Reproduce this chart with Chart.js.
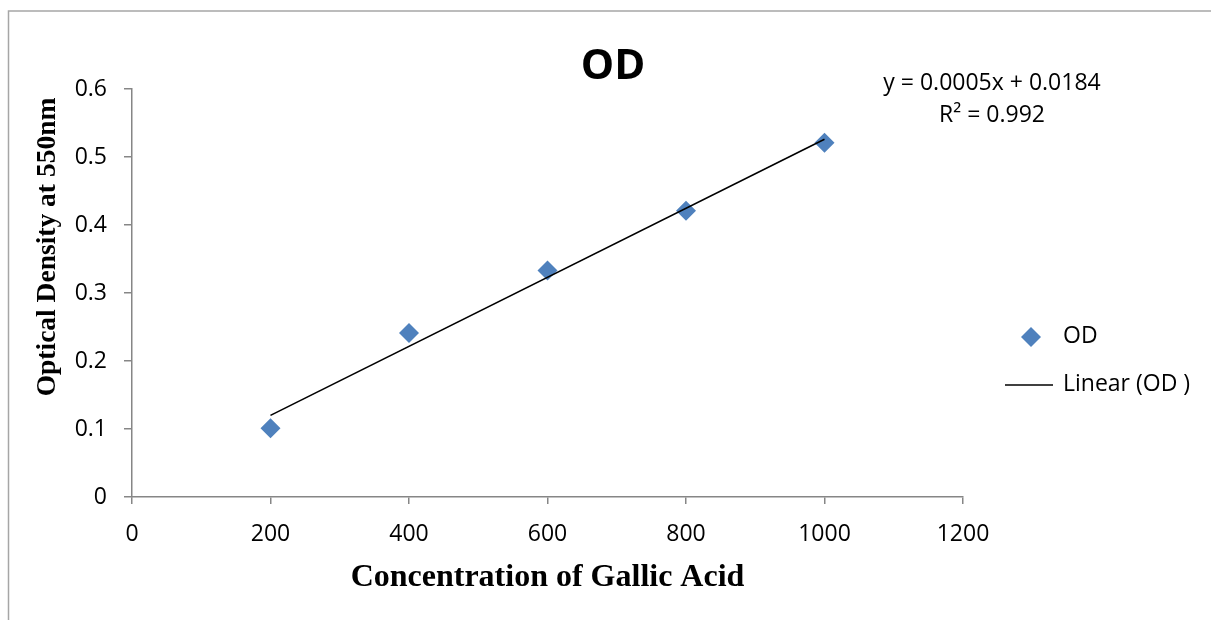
<!DOCTYPE html>
<html>
<head>
<meta charset="utf-8">
<script src="https://cdn.jsdelivr.net/npm/chart.js@4/dist/chart.umd.min.js"></script>
<style>
  html, body { margin: 0; padding: 0; background: #ffffff; }
  #wrap { width: 1211px; height: 620px; position: relative; }
</style>
</head>
<body>
<div id="wrap"><canvas id="c" width="1211" height="620"></canvas></div>
<script>
// ---- data ----
const concentrations = [200, 400, 600, 800, 1000];
const odValues = [0.101, 0.241, 0.333, 0.421, 0.521];
const trendX = [200, 1000];
const trendY = [0.120, 0.526];
const seriesName = "OD";
const trendName = "Linear (OD )";
const chartTitle = "OD";
const xAxisTitle = "Concentration of Gallic Acid";
const yAxisTitle = "Optical Density at 550nm";
const equationLines = ["y = 0.0005x + 0.0184", "R\u00b2 = 0.992"];
const xTickLabels = ["0", "200", "400", "600", "800", "1000", "1200"];
const yTickLabels = ["0", "0.1", "0.2", "0.3", "0.4", "0.5", "0.6"];

const BLUE = "#4F81BD";
const AXIS = "#868686";
const TICKFONT = "'Open Sans', 'Liberation Sans', sans-serif";
const SERIF = "'Liberation Serif', 'Times New Roman', serif";

const extras = {
  id: "extras",
  afterDraw(chart) {
    const ctx = chart.ctx;
    const ca = chart.chartArea;
    ctx.save();
    // outer frame (left + top visible)
    ctx.strokeStyle = "#a6a6a6";
    ctx.lineWidth = 1.5;
    ctx.beginPath();
    ctx.moveTo(8.5, 620);
    ctx.lineTo(8.5, 11);
    ctx.lineTo(1211, 11);
    ctx.stroke();

    // chart title
    ctx.fillStyle = "#000";
    ctx.font = "bold 42px " + TICKFONT;
    ctx.textAlign = "center";
    ctx.textBaseline = "alphabetic";
    ctx.fillText(chartTitle, 613, 79);

    // axis titles
    ctx.font = "bold 32px " + SERIF;
    ctx.fillText(xAxisTitle, (ca.left + ca.right) / 2, 586);

    ctx.save();
    ctx.translate(55, 247);
    ctx.rotate(-Math.PI / 2);
    ctx.font = "bold 27.5px " + SERIF;
    ctx.fillText(yAxisTitle, 0, 0);
    ctx.restore();

    // trendline equation
    ctx.font = "23px " + TICKFONT;
    ctx.textBaseline = "middle";
    ctx.textAlign = "center";
    ctx.fillText(equationLines[0], 992, 83);
    ctx.fillText(equationLines[1], 992, 115);

    // legend
    ctx.textAlign = "left";
    ctx.fillStyle = BLUE;
    ctx.beginPath();
    ctx.moveTo(1031, 327);
    ctx.lineTo(1041, 337);
    ctx.lineTo(1031, 347);
    ctx.lineTo(1021, 337);
    ctx.closePath();
    ctx.fill();
    ctx.fillStyle = "#000";
    ctx.fillText(chart.data.datasets[0].label, 1063, 336);
    ctx.strokeStyle = "#000";
    ctx.lineWidth = 1.5;
    ctx.beginPath();
    ctx.moveTo(1005, 385);
    ctx.lineTo(1053, 385);
    ctx.stroke();
    ctx.fillText(chart.data.datasets[1].label, 1063, 384);
    ctx.restore();
  }
};

new Chart(document.getElementById("c"), {
  type: "scatter",
  data: {
    datasets: [
      {
        label: seriesName,
        data: concentrations.map((x, i) => ({ x: x, y: odValues[i] })),
        pointStyle: "rectRot",
        pointRadius: 10,
        pointHoverRadius: 10,
        backgroundColor: BLUE,
        borderColor: BLUE,
        borderWidth: 0,
        order: 2
      },
      {
        label: trendName,
        type: "line",
        data: trendX.map((x, i) => ({ x: x, y: trendY[i] })),
        borderColor: "#000",
        borderWidth: 1.6,
        pointRadius: 0,
        fill: false,
        showLine: true,
        order: 1
      }
    ]
  },
  options: {
    responsive: false,
    animation: false,
    devicePixelRatio: 1,
    layout: { padding: { left: 0, right: 248, top: 89, bottom: 0 } },
    plugins: {
      legend: { display: false },
      tooltip: { enabled: false },
      title: { display: false }
    },
    scales: {
      x: {
        type: "linear",
        min: 0,
        max: 1200,
        afterFit(scale) { scale.height = 123; },
        afterBuildTicks(scale) {
          scale.ticks = xTickLabels.map(v => ({ value: Number(v) }));
        },
        ticks: {
          stepSize: 200,
          color: "#000",
          padding: 17,
          maxRotation: 0,
          font: { family: TICKFONT, size: 23 },
          callback: (v, i) => xTickLabels[i]
        },
        grid: { display: true, drawOnChartArea: false, drawTicks: true, tickLength: 7, color: AXIS, lineWidth: 1.5 },
        border: { display: true, color: AXIS, width: 1.5 }
      },
      y: {
        type: "linear",
        min: 0,
        max: 0.6,
        afterFit(scale) { scale.width = 132; },
        afterBuildTicks(scale) {
          scale.ticks = yTickLabels.map(v => ({ value: Number(v) }));
        },
        ticks: {
          stepSize: 0.1,
          color: "#000",
          padding: 17,
          font: { family: TICKFONT, size: 23 },
          callback: (v, i) => yTickLabels[i]
        },
        grid: { display: true, drawOnChartArea: false, drawTicks: true, tickLength: 8, color: AXIS, lineWidth: 1.5 },
        border: { display: true, color: AXIS, width: 1.5 }
      }
    }
  },
  plugins: [extras]
});
</script>
</body>
</html>
